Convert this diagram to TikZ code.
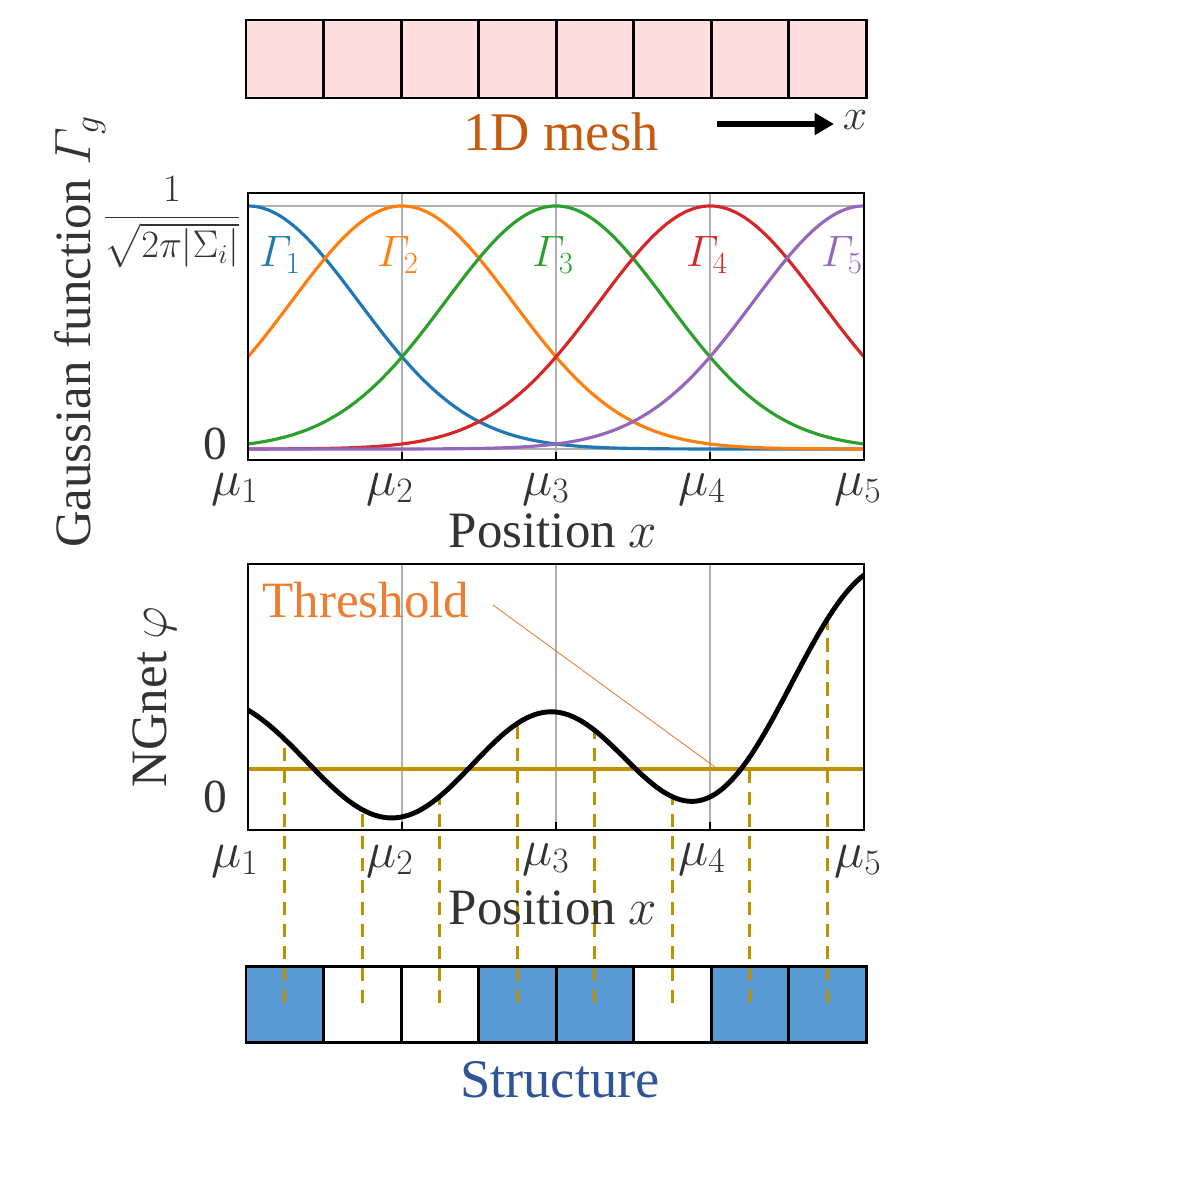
\RequirePackage{fix-cm}
\documentclass[tikz,border=0pt]{standalone}
\usepackage{amsmath}
\usepackage{fontspec}
\setmainfont{Liberation Serif}
\usetikzlibrary{arrows.meta}

\definecolor{meshpink}{HTML}{FFDEDE}
\definecolor{meshtext}{HTML}{C55A11}
\definecolor{strblue}{HTML}{5B9BD5}
\definecolor{strtext}{HTML}{2F5597}
\definecolor{thrgold}{HTML}{BF9000}
\definecolor{thrtext}{HTML}{ED7D31}
\definecolor{axtext}{HTML}{333333}
\definecolor{gridgray}{HTML}{B0B0B0}
\definecolor{tabblue}{HTML}{1F77B4}
\definecolor{taborange}{HTML}{FF7F0E}
\definecolor{tabgreen}{HTML}{2CA02C}
\definecolor{tabred}{HTML}{D62728}
\definecolor{tabpurple}{HTML}{9467BD}

\newcommand{\bigfont}{\fontsize{31}{36}\selectfont}
\newcommand{\labfont}{\fontsize{29}{34}\selectfont}
\newcommand{\tickfont}{\fontsize{27}{32}\selectfont}
\newcommand{\gamfont}{\fontsize{25}{30}\selectfont}
\newcommand{\fracfont}{\fontsize{22}{27}\selectfont}

\begin{document}
\begin{tikzpicture}[x=0.02cm, y=-0.02cm,
  declare function={g(\t,\m)=exp(-0.97*((\t-\m)/154)^2);
    phi(\t)=137.3*g(\t,248)-143.8*g(\t,402)+199.4*g(\t,556)-181.2*g(\t,710)+286.6*g(\t,864);},
  cell/.style={draw=black, line width=1.7pt},
  axbox/.style={draw=black, line width=1.2pt},
  grid line/.style={draw=gridgray, line width=1pt},
  gauss/.style={line width=1.8pt},
  ngnet/.style={draw=black, line width=2.8pt},
  thr/.style={draw=thrgold, line width=1.8pt},
  thr dash/.style={draw=thrgold, line width=1.6pt, dash pattern=on 7.5pt off 5pt},
  lab/.style={text=axtext, font=\labfont, inner sep=0pt},
  tick/.style={text=axtext, font=\tickfont, inner sep=0pt},
  gam/.style={font=\gamfont, inner sep=0pt}]
\useasboundingbox (0,0) rectangle (1182,1182);

% mesh
\foreach \i in {0,...,7}
  \draw[cell, fill=meshpink] ({246+77.5*\i},20) rectangle ({246+77.5*(\i+1)},98);
\node[text=meshtext, font=\bigfont, inner sep=0pt] (meshlabel) at (561,132) {1D mesh};
\coordinate (arrA) at (717,124);
\coordinate (arrB) at (834,124);
\draw[line width=3.2pt, -{Triangle[length=11pt, width=12pt]}] (arrA) -- (arrB);
\node[gam, text=axtext] (xlabel) at (855,120) {$x$};

% gaussian functions
\draw[grid line] (248,206) -- (864,206);
\draw[grid line] (248,449) -- (864,449);
\foreach \m in {402,556,710} {
  \draw[grid line] (\m,193) -- (\m,460);
  \draw[line width=1.2pt] (\m,460) -- (\m,452);
}
\begin{scope}
\clip (248,193) rectangle (864,460);
\foreach \m/\c in {248/tabblue,402/taborange,556/tabgreen,710/tabred,864/tabpurple}
  \draw[gauss, \c] plot[domain=248:864, samples=120, smooth] (\x,{449-243*g(\x,\m)});
\end{scope}
\draw[axbox] (248,193) rectangle (864,460);
\node[gam, text=tabblue] (G1) at (280,255) {$\varGamma_1$};
\node[gam, text=taborange] (G2) at (398,255) {$\varGamma_2$};
\node[gam, text=tabgreen] (G3) at (553,255) {$\varGamma_3$};
\node[gam, text=tabred] (G4) at (707,255) {$\varGamma_4$};
\node[gam, text=tabpurple] (G5) at (842,255) {$\varGamma_5$};
\node[text=axtext, font=\fracfont, inner sep=0pt] (ytop) at (172,222) {$\dfrac{1}{\sqrt{2\pi|\Sigma_i|}}$};
\node[tick] (yzeroA) at (215,444) {0};
\foreach \m [count=\k] in {235,390,546,702,858}
  \node[lab] (muA\k) at (\m,489) {$\mu_\k$};
\node[lab] (xposA) at (553,531) {Position $x$};
\node[lab, rotate=90] (ylabA) at (80,332) {Gaussian function $\varGamma_g$};

% structure
\foreach \i/\c in {0/strblue,1/white,2/white,3/strblue,4/strblue,5/white,6/strblue,7/strblue}
  \draw[cell, fill=\c] ({246+77.5*\i},966) rectangle ({246+77.5*(\i+1)},1042);
\node[text=strtext, font=\bigfont, inner sep=0pt] (strlabel) at (560,1080) {Structure};

% NGnet
\foreach \m in {402,556,710} {
  \draw[grid line] (\m,564) -- (\m,830);
  \draw[line width=1.2pt] (\m,830) -- (\m,822);
}
\draw[thr] (248,769) -- (864,769);
\foreach \i in {0,...,7} {
  \pgfmathsetmacro\xc{246+77.5*(\i+0.5)}
  \draw[thr dash] (\xc,1003) -- (\xc,{797-phi(\xc)});
}
\begin{scope}
\clip (248,564) rectangle (864,830);
\draw[ngnet] plot[domain=248:864, samples=120, smooth] (\x,{797-phi(\x)});
\end{scope}
\draw[axbox] (248,564) rectangle (864,830);
\node[text=thrtext, font=\labfont, inner sep=0pt] (thrlabel) at (366,600) {Threshold};
\coordinate (thrA) at (493,605);
\coordinate (thrB) at (715,767);
\draw[thrtext, line width=0.5pt] (thrA) -- (thrB);
\node[tick] (yzeroB) at (215,797) {0};
\foreach \m/\yy [count=\k] in {235/861,390/861,546/859,702/859,858/861}
  \node[lab] (muB\k) at (\m,\yy) {$\mu_\k$};
\node[lab] (xposB) at (553,908) {Position $x$};
\node[lab, rotate=90] (ylabB) at (155,697) {NGnet $\varphi$};
\end{tikzpicture}
\end{document}
